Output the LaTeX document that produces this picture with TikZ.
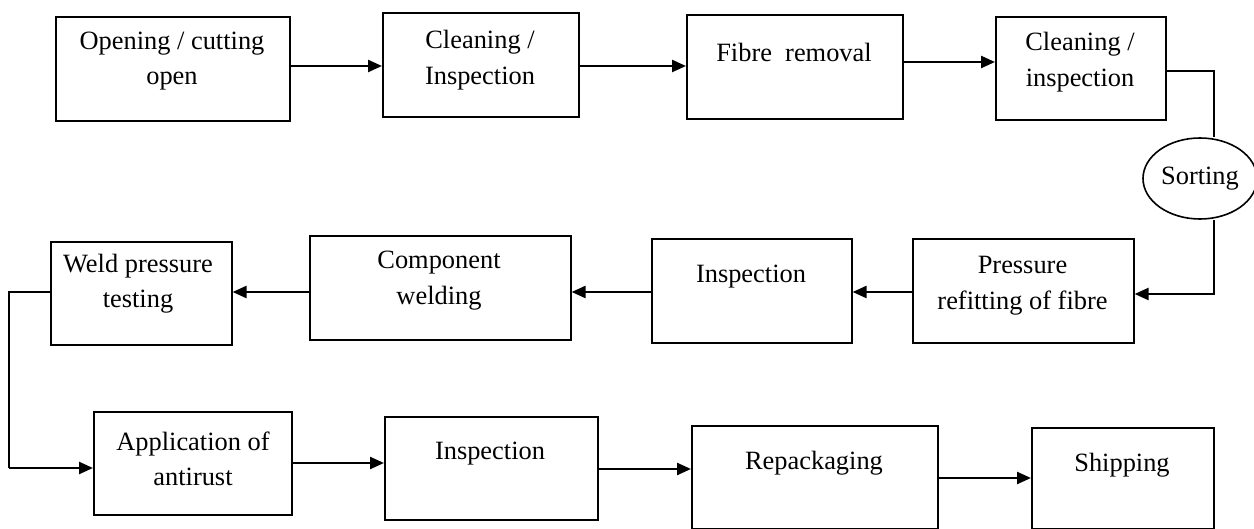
\documentclass[tikz,border=0pt]{standalone}
\usepackage{fontspec}
\setmainfont{Liberation Serif}
\usetikzlibrary{arrows.meta,shapes.geometric}
\begin{document}
\begin{tikzpicture}[x=1pt,y=-1pt,
  stepbox/.style={draw,line width=1.6pt,inner sep=0pt,anchor=north west},
  lbl/.style={font=\fontsize{26.4}{35.5}\selectfont,align=center,inner sep=0pt},
  flow/.style={line width=2.4pt,-{Triangle[length=14pt,width=12pt]}},
  link/.style={line width=1.4pt}]
\useasboundingbox (0,0) rectangle (1254,529);

% process boxes (top-left corner, width, height)
\node[stepbox,minimum width=234,minimum height=104] (b1) at (55,16) {};
\node[stepbox,minimum width=196,minimum height=104] (b2) at (382,12) {};
\node[stepbox,minimum width=216,minimum height=104] (b3) at (686,14) {};
\node[stepbox,minimum width=170,minimum height=103] (b4) at (995,16) {};
\node[stepbox,minimum width=221,minimum height=104] (b5) at (912,238) {};
\node[stepbox,minimum width=200,minimum height=104] (b6) at (651,238) {};
\node[stepbox,minimum width=261,minimum height=104] (b7) at (309,235) {};
\node[stepbox,minimum width=181,minimum height=103] (b8) at (50,241) {};
\node[stepbox,minimum width=198,minimum height=103] (b9) at (93,411) {};
\node[stepbox,minimum width=213,minimum height=103] (b10) at (384,416) {};
\node[stepbox,minimum width=246,minimum height=103] (b11) at (691,425) {};
\node[stepbox,minimum width=182,minimum height=101] (b12) at (1031,427) {};

% box texts
\node[lbl] (t1) at (172,61) {Opening / cutting\\open};
\node[lbl] (t2) at (480,60) {Cleaning /\\Inspection};
\node[lbl] (t3) at (794,52) {Fibre~ removal};
\node[lbl] (t4) at (1080,62) {Cleaning /\\inspection};
\node[lbl] (t5) at (1022.5,285.5) {Pressure\\refitting of fibre};
\node[lbl] (t6) at (751,277) {Inspection};
\node[lbl] (t7) at (439,280.5) {Component\\welding};
\node[lbl] (t8) at (138,283.5) {Weld pressure\\testing};
\node[lbl] (t9) at (193,459) {Application of\\antirust};
\node[lbl] (t10) at (490,454) {Inspection};
\node[lbl] (t11) at (814,463) {Repackaging};
\node[lbl] (t12) at (1122,465) {Shipping};

% sorting step
\node[draw,ellipse,line width=1.6pt,inner sep=0pt,minimum width=114,minimum height=81,
      font=\fontsize{26.4}{35.5}\selectfont] (srt) at (1200,178.5) {Sorting};
\coordinate (sx) at (1214,0);
\coordinate (lx) at (9,0);

% connectors
\draw[flow] (b1.east |- 0,66) -- (b2.west |- 0,66);
\draw[flow] (b2.east |- 0,66) -- (b3.west |- 0,66);
\draw[flow] (b3.east |- 0,62) -- (b4.west |- 0,62);
\draw[link] (b4.east |- 0,71) -| (sx |- srt.north);
\draw[flow] (sx |- srt.south) |- (b5.east |- 0,294);
\draw[flow] (b5.west |- 0,292) -- (b6.east |- 0,292);
\draw[flow] (b6.west |- 0,292) -- (b7.east |- 0,292);
\draw[flow] (b7.west |- 0,292) -- (b8.east |- 0,292);
\draw[link] (b8.west |- 0,292) -| (lx |- 0,468);
\draw[flow] (lx |- 0,468) -- (b9.west |- 0,468);
\draw[flow] (b9.east |- 0,463) -- (b10.west |- 0,463);
\draw[flow] (b10.east |- 0,469) -- (b11.west |- 0,469);
\draw[flow] (b11.east |- 0,478) -- (b12.west |- 0,478);
\end{tikzpicture}
\end{document}
